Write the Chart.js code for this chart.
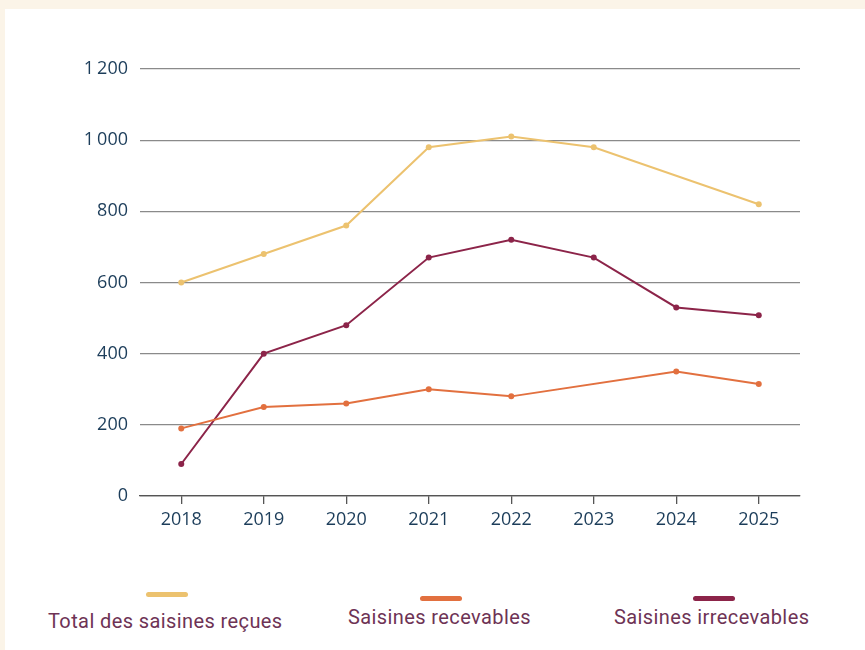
<!DOCTYPE html>
<html>
<head>
<meta charset="utf-8">
<script src="https://cdn.jsdelivr.net/npm/chart.js@4"></script>
<style>
  html, body { margin: 0; padding: 0; }
  body { width: 865px; height: 650px; background: #fbf4e8; position: relative; overflow: hidden; }
  #panel { position: absolute; left: 5px; top: 9px; width: 860px; height: 641px; background: #fff; }
  #wrap { position: absolute; left: 0; top: 0; width: 865px; height: 561px; }
  .leg { position: absolute; font-family: Roboto, sans-serif; font-size: 20px; letter-spacing: 0.4px; color: #6e3355; white-space: nowrap; }
  .sw { position: absolute; width: 42px; height: 5px; border-radius: 3px; }
</style>
</head>
<body>
<div id="panel"></div>
<div id="wrap"><canvas id="myChart" width="865" height="561"></canvas></div>

<div class="sw" style="left:146px; top:592px; background:#ecc26f"></div>
<div class="leg" style="left:48px; top:609px">Total des saisines reçues</div>
<div class="sw" style="left:420px; top:596px; background:#e2703f"></div>
<div class="leg" style="left:348px; top:605px">Saisines recevables</div>
<div class="sw" style="left:693px; top:596px; background:#8c2449"></div>
<div class="leg" style="left:614px; top:605px">Saisines irrecevables</div>

<script>
var years = ['2018', '2019', '2020', '2021', '2022', '2023', '2024', '2025'];
var totalRecues = [600, 680, 760, 980, 1010, 980, null, 820];
var recevables = [190, 250, 260, 300, 280, null, 350, 315];
var irrecevables = [90, 400, 480, 670, 720, 670, 530, 508];
var yTicks = [0, 200, 400, 600, 800, 1000, 1200];

function fmt(v) {
    return v >= 1000 ? String(v).replace(/(\d)(\d{3})$/, '$1\u2009$2') : String(v);
}

function series(data, color) {
    return {
        data: data,
        borderColor: color,
        backgroundColor: color,
        borderWidth: 2,
        pointRadius: 3,
        pointHoverRadius: 3,
        pointBorderWidth: 0,
        spanGaps: true,
        tension: 0,
        fill: false
    };
}

var ctx = document.getElementById('myChart').getContext('2d');
var myChart = new Chart(ctx, {
    type: 'line',
    data: {
        labels: years,
        datasets: [
            series(totalRecues, '#ecc26f'),
            series(recevables, '#e2703f'),
            series(irrecevables, '#8c2449')
        ]
    },
    options: {
        responsive: false,
        animation: false,
        layout: { padding: { top: 69, right: 65, bottom: 0, left: 0 } },
        plugins: {
            legend: { display: false },
            tooltip: { enabled: false }
        },
        scales: {
            x: {
                offset: true,
                afterFit: function (s) { s.height = 65; },
                grid: {
                    offset: false,
                    drawOnChartArea: false,
                    drawTicks: true,
                    tickLength: 8,
                    color: '#555',
                    lineWidth: 1.3
                },
                border: { display: true, color: '#555', width: 1.3 },
                ticks: {
                    color: '#1c3d5a',
                    padding: 5,
                    font: { family: 'Open Sans', size: 18 }
                }
            },
            y: {
                min: 0,
                max: 1200,
                afterFit: function (s) { s.width = 140; },
                afterBuildTicks: function (s) { s.ticks = yTicks.map(function (v) { return { value: v }; }); },
                grid: {
                    drawTicks: false,
                    color: function (c) { return c.tick.value === 0 ? '#555' : '#8a8a8a'; },
                    lineWidth: 1.3
                },
                border: { display: false },
                ticks: {
                    color: '#1c3d5a',
                    padding: 12,
                    font: { family: 'Open Sans', size: 18 },
                    callback: function (v) { return fmt(v); }
                }
            }
        }
    }
});
</script>
</body>
</html>
